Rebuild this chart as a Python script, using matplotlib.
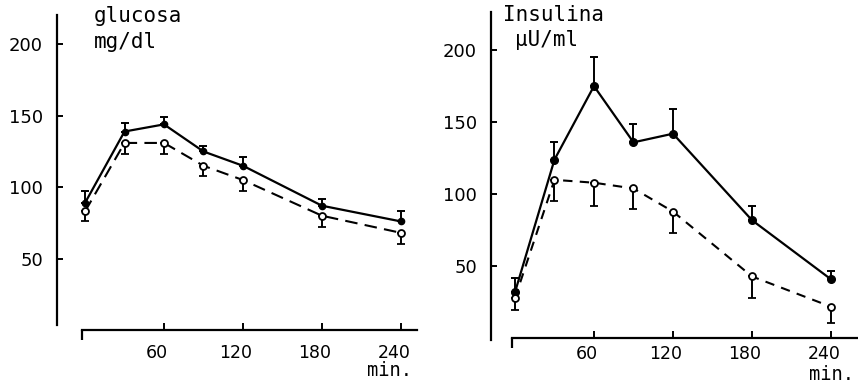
import matplotlib
matplotlib.use("Agg")
import matplotlib.pyplot as plt
import matplotlib.transforms as mtransforms

# ---- data ----
time = [0, 30, 60, 90, 120, 180, 240]
x_ticks = [60, 120, 180, 240]
y_ticks = [50, 100, 150, 200]

glu_solid = [89, 139, 144, 125, 115, 87, 76]
glu_solid_err = [8, 6, 5, 4, 6, 5, 7]
glu_open = [83, 131, 131, 115, 105, 80, 68]
glu_open_err = [7, 8, 8, 7, 8, 8, 8]

ins_solid = [32, 124, 175, 136, 142, 82, 41]
ins_solid_err = [10, 12, 20, 13, 17, 10, 6]
ins_open = [28, 110, 108, 104, 88, 43, 22]
ins_open_err = [8, 15, 16, 14, 15, 15, 11]

W, H = 858, 386
fig = plt.figure(figsize=(W / 100, H / 100), dpi=100)
fig.patch.set_facecolor("white")

mono = "DejaVu Sans Mono"


def px_axes(x0, y0, x1, y1):
    return fig.add_axes([x0 / W, 1 - y1 / H, (x1 - x0) / W, (y1 - y0) / H])


def setup(ax, xlim, ylim, xbounds, ybounds, xpad):
    ax.set_xlim(*xlim)
    ax.set_ylim(*ylim)
    for s in ("top", "right"):
        ax.spines[s].set_visible(False)
    ax.spines["bottom"].set_position(("data", 0))
    ax.spines["bottom"].set_bounds(*xbounds)
    ax.spines["left"].set_bounds(*ybounds)
    for s in ("left", "bottom"):
        ax.spines[s].set_linewidth(1.6)
        ax.spines[s].set_color("black")
    ax.set_xticks(x_ticks)
    ax.set_xticklabels([str(v) for v in x_ticks])
    ax.set_xticks([xbounds[0]], minor=True)
    ax.set_yticks(y_ticks)
    ax.set_yticklabels([str(v) for v in y_ticks])
    ax.tick_params(axis="x", which="major", direction="in", length=5, width=1.4,
                   pad=xpad, labelsize=12.5)
    ax.tick_params(axis="x", which="minor", direction="out", length=7, width=1.6)
    ax.tick_params(axis="y", direction="in", length=4, width=1.4, pad=10,
                   labelsize=13)
    off = mtransforms.ScaledTranslation(-7 / 100, 0, fig.dpi_scale_trans)
    for lab in ax.get_xticklabels():
        lab.set_transform(lab.get_transform() + off)
    ax.patch.set_alpha(0)


def draw(ax, solid, solid_err, opn, opn_err, dash, ms):
    ax.errorbar(time, solid, yerr=[[0] * len(solid), solid_err], fmt="-o",
                color="black", lw=1.6, ms=ms, mfc="black", mec="black",
                elinewidth=1.4, capsize=2.6, capthick=1.4, clip_on=False)
    ax.errorbar(time, opn, yerr=[opn_err, [0] * len(opn)], fmt="o",
                color="black", ms=5, mfc="white", mec="black", mew=1.3,
                elinewidth=1.4, capsize=2.6, capthick=1.4, clip_on=False,
                zorder=4)
    ax.plot(time, opn, color="black", lw=1.5, linestyle=(0, dash), zorder=3)


# left panel: glucose
ax1 = px_axes(57, 15, 420, 333)
v1 = lambda y: 125 + (151.5 - y) / 1.427
setup(ax1, (-21.3, 254.5), (v1(333), v1(15)), (-2.3, 252), (v1(325), v1(15)),
      10)
draw(ax1, glu_solid, glu_solid_err, glu_open, glu_open_err, (6, 3.5), 4.5)

# right panel: insulin
ax2 = px_axes(491, 12, 858, 342)
v2 = lambda y: 125 + (158.2 - y) / 1.442
setup(ax2, (-18.2, 260.5), (v2(342), v2(12)), (-2.3, 259.5), (v2(340), v2(12)),
      4.5)
draw(ax2, ins_solid, ins_solid_err, ins_open, ins_open_err, (4.5, 3.5), 5.5)


def ptext(x, y, s, size=15, **kw):
    fig.text(x / W, 1 - y / H, s, family=mono, fontsize=size, va="center", **kw)


ptext(94, 16, "glucosa")
ptext(94, 42, "mg/dl")
ptext(503, 15, "Insulina")
ptext(515, 40, "μU/ml")
ptext(389, 371, "min.", size=13.5, ha="center")
ptext(831, 375, "min.", size=13.5, ha="center")

fig.savefig("out.png", dpi=100, facecolor="white")
